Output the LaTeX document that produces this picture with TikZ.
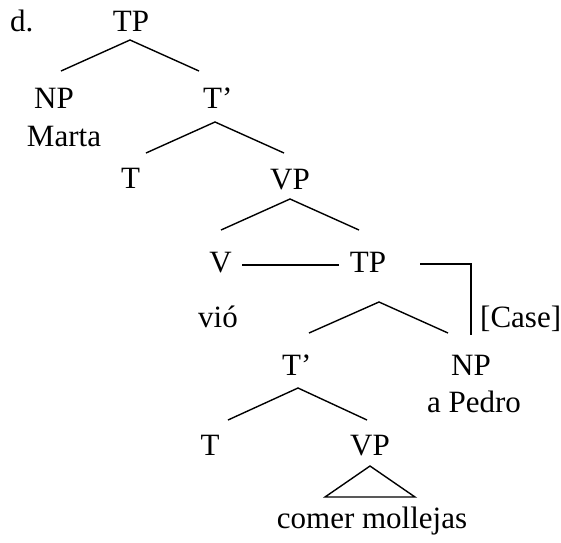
\documentclass[tikz,border=0pt]{standalone}
\usepackage{fontspec}
\setmainfont{Liberation Serif}
\begin{document}
\begin{tikzpicture}[x=1pt,y=-1pt,
  lab/.style={inner sep=0pt,anchor=base,font=\fontsize{31}{37}\selectfont},
  labw/.style={lab,anchor=base west},
  br/.style={line width=1.4pt,line cap=butt}]
\useasboundingbox (0,0) rectangle (561,542);
% labels
\node[labw] (d) at (10,31) {d.};
\node[lab] (tp1) at (131,31) {TP};
\node[lab] (np1) at (54,108) {NP};
\node[lab] (marta) at (64,146) {Marta};
\node[labw] (tb1) at (203,108) {T’};
\node[lab] (t1) at (130.5,188) {T};
\node[lab] (vp1) at (290,189) {VP};
\node[lab] (v) at (220.5,272) {V};
\node[lab] (tp2) at (368,272) {TP};
\node[labw] (vio) at (198,327) {vió};
\node[labw] (case) at (480,327) {[Case]};
\node[labw] (tb2) at (282,375) {T’};
\node[lab] (np2) at (471,375) {NP};
\node[lab] (apedro) at (474,412) {a Pedro};
\node[lab] (t2) at (210,455) {T};
\node[lab] (vp2) at (370,455) {VP};
\node[lab] (comer) at (372,528) {comer mollejas};
% branches
\coordinate (a1) at (130,40); \coordinate (l1) at (61,71); \coordinate (r1) at (199,71);
\coordinate (a2) at (215,122); \coordinate (l2) at (146,153); \coordinate (r2) at (284,153);
\coordinate (a3) at (290,199); \coordinate (l3) at (221,230); \coordinate (r3) at (359,230);
\coordinate (a4) at (379,302); \coordinate (l4) at (309,333); \coordinate (r4) at (448,333);
\coordinate (a5) at (298,388); \coordinate (l5) at (228,420); \coordinate (r5) at (367,420);
\draw[br] (l1) -- (a1) -- (r1);
\draw[br] (l2) -- (a2) -- (r2);
\draw[br] (l3) -- (a3) -- (r3);
\draw[br] (l4) -- (a4) -- (r4);
\draw[br] (l5) -- (a5) -- (r5);
% V -- TP line
\coordinate (vl) at (242,265); \coordinate (vr) at (339,265);
\draw[br] (vl) -- (vr);
% case bracket
\coordinate (b1) at (420,264); \coordinate (b2) at (471,264); \coordinate (b3) at (471,335);
\draw[br] (b1) -- (b2) -- (b3);
% triangle
\coordinate (ta) at (370,466); \coordinate (tl) at (325,497); \coordinate (tr) at (415,497);
\draw[br,line join=miter] (ta) -- (tl) -- (tr) -- cycle;
\end{tikzpicture}
\end{document}
